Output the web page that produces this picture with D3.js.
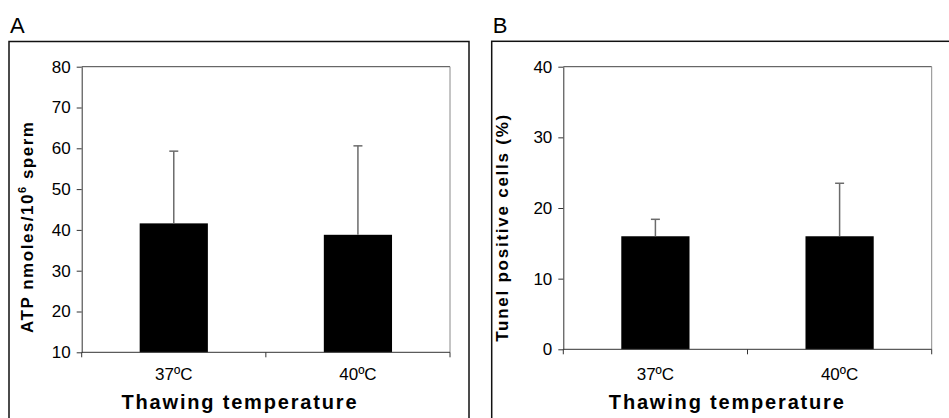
<!DOCTYPE html>
<html>
<head>
<meta charset="utf-8">
<script src="https://cdn.jsdelivr.net/npm/d3@7"></script>
<style>
  body { margin: 0; background: #fff; }
  svg { display: block; font-family: "Liberation Sans", Arial, sans-serif; }
</style>
</head>
<body>
<script>
// data
const categories = ["37ºC", "40ºC"];
const atpMeans = [41.6, 38.8];
const atpErrors = [17.7, 21.8];
const atpTicks = [10, 20, 30, 40, 50, 60, 70, 80];
const tunelMeans = [16.0, 16.0];
const tunelErrors = [2.4, 7.5];
const tunelTicks = [0, 10, 20, 30, 40];

const width = 949, height = 418;

const svg = d3.select("body").append("svg")
  .attr("width", width)
  .attr("height", height);

function drawPanel(opt) {
  let g = svg.append("g");

  // outer frame
  g.append("rect")
    .attr("x", opt.box[0])
    .attr("y", opt.box[1])
    .attr("width", opt.box[2] - opt.box[0])
    .attr("height", 500)
    .attr("fill", "none")
    .attr("stroke", "#111")
    .attr("stroke-width", 1.5);

  // panel letter
  g.append("text")
    .attr("x", opt.box[0] + 1)
    .attr("y", 33)
    .style("font-size", "22px")
    .text(opt.letter);

  let x = d3.scaleBand()
    .domain(categories)
    .range([opt.left, opt.right]);

  let y = d3.scaleLinear()
    .domain(opt.domain)
    .range([opt.bottom, opt.top]);

  // plot border (top + right)
  g.append("line")
    .attr("x1", opt.left).attr("x2", opt.right)
    .attr("y1", opt.top).attr("y2", opt.top)
    .attr("stroke", "#444");
  g.append("line")
    .attr("x1", opt.right).attr("x2", opt.right)
    .attr("y1", opt.top).attr("y2", opt.bottom)
    .attr("stroke", "#8a8a8a");

  // bars
  let barW = x.bandwidth() / 2.7;
  g.append("g")
    .selectAll("rect")
    .data(opt.means)
    .enter().append("rect")
    .attr("x", (d, i) => x(categories[i]) + x.bandwidth() / 2 - barW / 2)
    .attr("y", d => y(d))
    .attr("width", barW)
    .attr("height", d => y(opt.domain[0]) - y(d))
    .attr("fill", "#000");

  // error bars (upper only)
  let err = g.append("g")
    .selectAll("g")
    .data(opt.means)
    .enter().append("g")
    .attr("transform", (d, i) => "translate(" + (x(categories[i]) + x.bandwidth() / 2) + ",0)");
  err.append("line")
    .attr("x1", 0).attr("x2", 0)
    .attr("y1", d => y(d))
    .attr("y2", (d, i) => y(d + opt.errors[i]))
    .attr("stroke", "#6b6b6b")
    .attr("stroke-width", 1.5);
  err.append("line")
    .attr("x1", -4.5).attr("x2", 4.5)
    .attr("y1", (d, i) => y(d + opt.errors[i]))
    .attr("y2", (d, i) => y(d + opt.errors[i]))
    .attr("stroke", "#6b6b6b")
    .attr("stroke-width", 1.5);

  // y axis
  let yAxis = d3.axisLeft(y)
    .tickValues(opt.ticks)
    .tickSize(5)
    .tickPadding(6)
    .tickSizeOuter(0);
  let ya = g.append("g")
    .attr("transform", "translate(" + opt.left + ",0)")
    .call(yAxis);
  ya.select(".domain").attr("stroke", "#333");
  ya.selectAll(".tick line").attr("stroke", "#333");
  ya.selectAll("text")
    .style("font-size", "17px")
    .style("font-family", "'Liberation Sans', Arial, sans-serif")
    .attr("fill", "#000");

  // x axis: ticks at category boundaries
  let xa = g.append("g");
  xa.append("line")
    .attr("x1", opt.left).attr("x2", opt.right)
    .attr("y1", opt.bottom).attr("y2", opt.bottom)
    .attr("stroke", "#333");
  let bounds = categories.map(c => x(c)).concat([opt.right]);
  xa.selectAll(".xt")
    .data(bounds)
    .enter().append("line")
    .attr("class", "xt")
    .attr("x1", d => d).attr("x2", d => d)
    .attr("y1", opt.bottom).attr("y2", opt.bottom + 5)
    .attr("stroke", "#333");
  xa.selectAll(".xl")
    .data(categories)
    .enter().append("text")
    .attr("class", "xl")
    .attr("x", d => x(d) + x.bandwidth() / 2)
    .attr("y", 380)
    .attr("text-anchor", "middle")
    .style("font-size", "17px")
    .text(d => d);

  // x title, centered on the frame
  g.append("text")
    .attr("x", (opt.box[0] + opt.box[2]) / 2)
    .attr("y", 409)
    .attr("text-anchor", "middle")
    .attr("textLength", 235)
    .attr("lengthAdjust", "spacing")
    .style("font-size", "20px")
    .style("font-weight", "bold")
    .text("Thawing temperature");

  // y title
  let yt = g.append("text")
    .attr("transform", "translate(" + opt.ytitleX + "," + opt.ytitleY + ") rotate(-90)")
    .attr("text-anchor", "middle")
    .attr("textLength", opt.ytitleLen)
    .attr("lengthAdjust", "spacing")
    .style("font-size", "17px")
    .style("font-weight", "bold");
  opt.ytitle(yt);
}

drawPanel({
  letter: "A",
  box: [9, 41.5, 469],
  left: 81.7, right: 450, top: 66.7, bottom: 352.3,
  domain: [10, 80],
  ticks: atpTicks,
  means: atpMeans,
  errors: atpErrors,
  ytitleX: 33, ytitleY: 227.5, ytitleLen: 211,
  ytitle: t => {
    t.append("tspan").text("ATP nmoles/10");
    t.append("tspan").attr("dy", -7).style("font-size", "11px").text("6");
    t.append("tspan").attr("dy", 7).text(" sperm");
  }
});

drawPanel({
  letter: "B",
  box: [491.7, 41.3, 961],
  left: 563.3, right: 931.7, top: 66.7, bottom: 349.3,
  domain: [0, 40],
  ticks: tunelTicks,
  means: tunelMeans,
  errors: tunelErrors,
  ytitleX: 508, ytitleY: 228.3, ytitleLen: 227,
  ytitle: t => t.text("Tunel positive cells (%)")
});
</script>
</body>
</html>
